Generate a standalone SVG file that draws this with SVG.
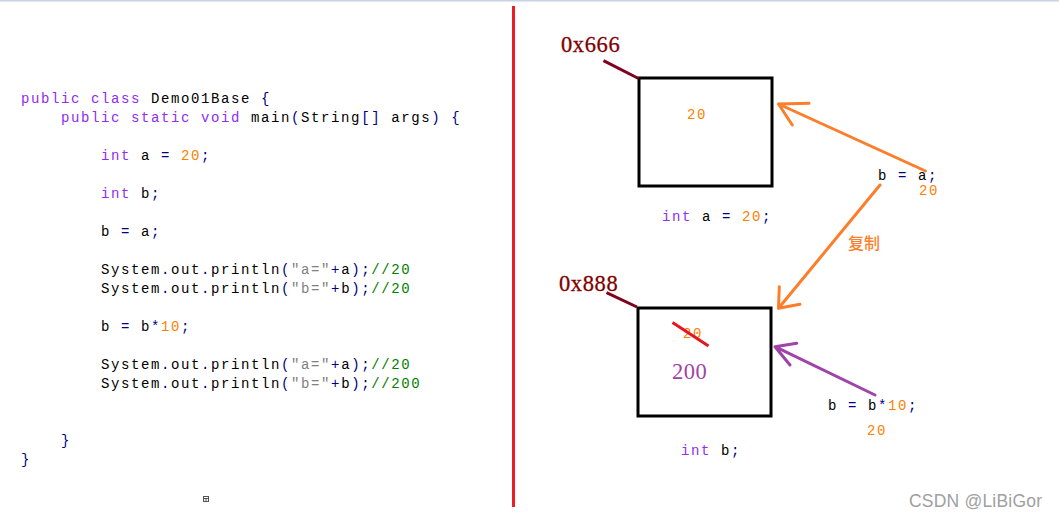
<svg xmlns="http://www.w3.org/2000/svg" width="1059" height="518" viewBox="0 0 1059 518">
<style>
.code{font-family:"Liberation Mono","DejaVu Sans Mono",monospace;font-size:14px;letter-spacing:1.6px;fill:#000}
.kw{fill:#8f2cf6}
.op{fill:#000080}
.num{fill:#ff8000}
.str{fill:#808080}
.cm{fill:#008000}
.addr{font-family:"Liberation Serif","DejaVu Serif",serif;font-size:22.5px;letter-spacing:0.6px;fill:#800000;stroke:#800000;stroke-width:0.3}
.box{fill:none;stroke:#000;stroke-width:3}
.lead{stroke:#800020;stroke-width:3;fill:none}
.org{stroke:#fd7e2a;stroke-width:3;fill:none;stroke-linecap:round;stroke-linejoin:round}
.pur{stroke:#a043a8;stroke-width:3;fill:none;stroke-linecap:round;stroke-linejoin:round}
</style>
<rect width="1059" height="518" fill="#fff"/>
<rect x="0" y="0" width="1059" height="1.5" fill="#c8d2e2"/>
<line x1="513.5" y1="6" x2="513.5" y2="507" stroke="#ee1c25" stroke-width="3"/>
<g id="code">
<text class="code" x="21" y="103" xml:space="preserve"><tspan class="kw">public</tspan> <tspan class="kw">class</tspan> Demo01Base <tspan class="op">{</tspan></text>
<text class="code" x="61" y="122" xml:space="preserve"><tspan class="kw">public</tspan> <tspan class="kw">static</tspan> <tspan class="kw">void</tspan> main<tspan class="op">(</tspan>String<tspan class="op">[]</tspan> args<tspan class="op">)</tspan> <tspan class="op">{</tspan></text>
<text class="code" x="101" y="160" xml:space="preserve"><tspan class="kw">int</tspan> a <tspan class="op">=</tspan> <tspan class="num">20</tspan><tspan class="op">;</tspan></text>
<text class="code" x="101" y="198" xml:space="preserve"><tspan class="kw">int</tspan> b<tspan class="op">;</tspan></text>
<text class="code" x="101" y="236" xml:space="preserve">b <tspan class="op">=</tspan> a<tspan class="op">;</tspan></text>
<text class="code" x="101" y="274" xml:space="preserve">System<tspan class="op">.</tspan>out<tspan class="op">.</tspan>println<tspan class="op">(</tspan><tspan class="str">"a="</tspan><tspan class="op">+</tspan>a<tspan class="op">);</tspan><tspan class="cm">//20</tspan></text>
<text class="code" x="101" y="293" xml:space="preserve">System<tspan class="op">.</tspan>out<tspan class="op">.</tspan>println<tspan class="op">(</tspan><tspan class="str">"b="</tspan><tspan class="op">+</tspan>b<tspan class="op">);</tspan><tspan class="cm">//20</tspan></text>
<text class="code" x="101" y="331" xml:space="preserve">b <tspan class="op">=</tspan> b<tspan class="op">*</tspan><tspan class="num">10</tspan><tspan class="op">;</tspan></text>
<text class="code" x="101" y="369" xml:space="preserve">System<tspan class="op">.</tspan>out<tspan class="op">.</tspan>println<tspan class="op">(</tspan><tspan class="str">"a="</tspan><tspan class="op">+</tspan>a<tspan class="op">);</tspan><tspan class="cm">//20</tspan></text>
<text class="code" x="101" y="388" xml:space="preserve">System<tspan class="op">.</tspan>out<tspan class="op">.</tspan>println<tspan class="op">(</tspan><tspan class="str">"b="</tspan><tspan class="op">+</tspan>b<tspan class="op">);</tspan><tspan class="cm">//200</tspan></text>
<text class="code" x="61" y="445"><tspan class="op">}</tspan></text>
<text class="code" x="21" y="464"><tspan class="op">}</tspan></text>
</g>
<g id="icon" fill="none" stroke="#555" stroke-width="1">
<rect x="203.5" y="496.5" width="5" height="5"/>
<line x1="203.5" y1="498.5" x2="208.5" y2="498.5"/>
<line x1="206" y1="498.5" x2="206" y2="501.5"/>
</g>
<g id="box-a">
<text class="addr" x="561" y="52">0x666</text>
<rect class="box" x="639" y="78" width="133" height="108"/>
<text class="code num" x="687" y="119">20</text>
<text class="code" x="662" y="221" xml:space="preserve"><tspan class="kw">int</tspan> a <tspan class="op">=</tspan> <tspan class="num">20</tspan><tspan class="op">;</tspan></text>
</g>
<g id="box-b">
<text class="addr" x="559" y="291">0x888</text>
<rect class="box" x="638" y="308" width="133" height="108"/>
<text class="code num" x="683" y="338">20</text>
<line x1="672.5" y1="322.5" x2="708.5" y2="346" stroke="#e8141e" stroke-width="3"/>
<text x="672" y="379" font-family="Liberation Serif, DejaVu Serif, serif" font-size="22.5" letter-spacing="0.5" fill="#a043a8">200</text>
<text class="code" x="681" y="455" xml:space="preserve"><tspan class="kw">int</tspan> b<tspan class="op">;</tspan></text>
</g>
<g id="stmt-assign">
<text class="code" x="878" y="180" xml:space="preserve">b <tspan class="op">=</tspan> a<tspan class="op">;</tspan></text>
<text class="code num" x="919" y="195">20</text>
</g>
<g id="stmt-mul">
<text class="code" x="828" y="410" xml:space="preserve">b <tspan class="op">=</tspan> b<tspan class="op">*</tspan><tspan class="num">10</tspan><tspan class="op">;</tspan></text>
<text class="code num" x="867" y="435">20</text>
</g>
<g id="connectors">
<line class="lead" x1="603.5" y1="60.7" x2="638.5" y2="78.5"/>
<line class="lead" x1="606.5" y1="292.7" x2="637" y2="307"/>
<path class="org" d="M925.5,171 L778.5,104 M809,103.3 L778.5,104 L792.3,125"/>
<path class="org" d="M880,185 L778.5,308.3 M800,304.3 L778.5,308.3 L779.3,286.7"/>
<path class="pur" d="M875,395 L775,346.7 M796.7,343.3 L775,346.7 L790,365"/>
<text x="848" y="249" font-family="Noto Sans CJK SC, sans-serif" font-size="16" font-weight="500" fill="#fd7e2a">复制</text>
</g>
<text x="909" y="507" font-family="Liberation Sans, Arial, sans-serif" font-size="17.5" letter-spacing="0.2" fill="#a0a0a0">CSDN @LiBiGor</text>
</svg>
